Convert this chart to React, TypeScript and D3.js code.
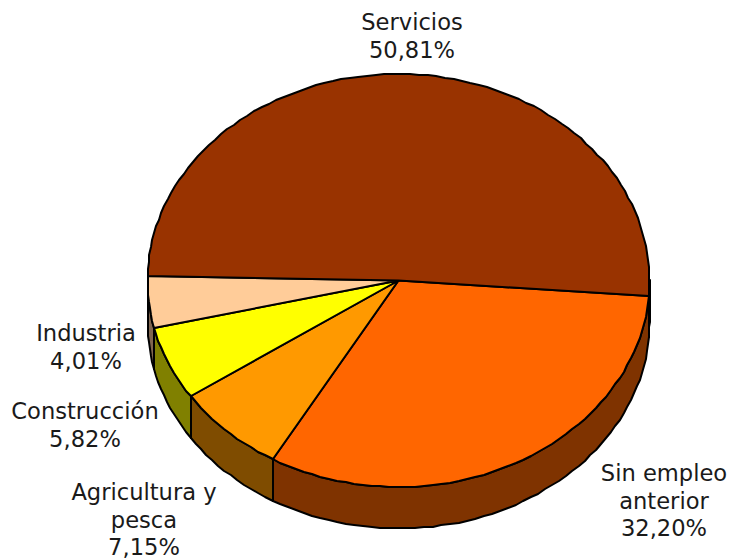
import React from "react";
import * as d3 from "d3";

const categories = ["Sin empleo anterior", "Agricultura y pesca", "Construcción", "Industria", "Servicios"];
const shares = [32.2, 7.15, 5.82, 4.01, 50.81];
const shareLabels = ["32,20%", "7,15%", "5,82%", "4,01%", "50,81%"];
const labelLines = [["Sin empleo", "anterior"], ["Agricultura y", "pesca"], ["Construcción"], ["Industria"], ["Servicios"]];

const topColors = ["#FF6600", "#FF9900", "#FFFF00", "#FFCC99", "#993300"];
const sideColors = ["#7F3300", "#7F4C00", "#808000", "#806650", "#4D1A00"];
const labelAnchors: [number, number][] = [[664, 474], [144, 493], [85, 412], [86, 334], [412, 23]];

const W = 729, H = 560;
const cx = 398.5, cy = 280.5, rx = 251, ry = 206.5, depth = 41.5;
const START = (4.2 * Math.PI) / 180;

const pieGen = d3.pie<number>().sort(null).startAngle(START).endAngle(START + 2 * Math.PI);
const xAt = (t: number) => cx + rx * Math.cos(t);
const yAt = (t: number) => cy + ry * Math.sin(t);

function arcPts(a: number, b: number, dy = 0): [number, number][] {
  const n = Math.max(2, Math.ceil(Math.abs(b - a) / (Math.PI / 90)));
  return d3.range(n + 1).map((i) => {
    const t = a + ((b - a) * i) / n;
    return [Math.round(xAt(t)), Math.round(yAt(t) + dy)] as [number, number];
  });
}
const line = d3.line();

export default function App() {
  const arcs = pieGen(shares);
  const sides: { d: string; fill: string }[] = [];
  arcs.forEach((s, i) => {
    const ranges: [number, number][] = [
      [Math.max(s.startAngle, 0), Math.min(s.endAngle, Math.PI)],
      [Math.max(s.startAngle, 2 * Math.PI), Math.min(s.endAngle, 3 * Math.PI)],
    ];
    ranges.forEach(([a, b]) => {
      if (b > a) {
        const pts = [...arcPts(a, b), ...arcPts(b, a, depth)];
        sides.push({ d: line(pts)! + "Z", fill: sideColors[i] });
      }
    });
  });
  return (
    <svg width={W} height={H} style={{ position: "absolute", left: 0, top: 0 }} fontFamily="DejaVu Sans" fontSize={22.6}>
      <rect width={W} height={H} fill="#fff" />
      {sides.map((s, i) => (
        <path key={i} d={s.d} fill={s.fill} stroke="#000" strokeWidth={2} strokeLinejoin="round" />
      ))}
      {arcs.map((s, i) => {
        const pts: [number, number][] = [[cx, cy], ...arcPts(s.startAngle, s.endAngle)];
        return <path key={i} d={line(pts)! + "Z"} fill={topColors[i]} stroke="#000" strokeWidth={2} strokeLinejoin="round" />;
      })}
      {categories.map((c, i) => {
        const [x, y] = labelAnchors[i];
        const rows = [...labelLines[i], shareLabels[i]];
        return (
          <text key={c} x={x} y={y} textAnchor="middle" dominantBaseline="middle" fill="#1a1a1a">
            {rows.map((r, k) => (
              <tspan key={k} x={x} y={y + k * 27.7}>{r}</tspan>
            ))}
          </text>
        );
      })}
    </svg>
  );
}
